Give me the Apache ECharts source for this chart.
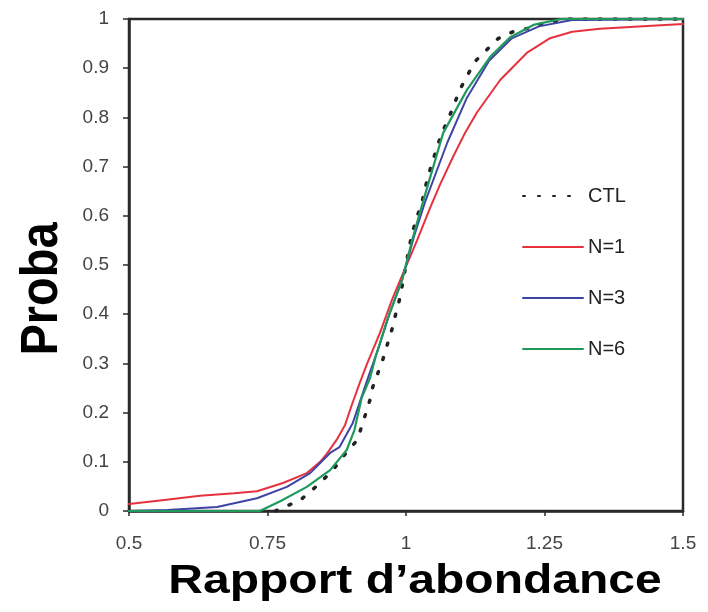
<!DOCTYPE html>
<html>
<head>
<meta charset="utf-8">
<script src="https://cdn.jsdelivr.net/npm/echarts@6/dist/echarts.min.js"></script>
<style>html,body{margin:0;padding:0;background:#fff}#c{width:708px;height:612px}</style>
</head>
<body>
<div id="c"></div>
<script>
var xTicks = [0.5, 0.75, 1, 1.25, 1.5];
var yTicks = [0, 0.1, 0.2, 0.3, 0.4, 0.5, 0.6, 0.7, 0.8, 0.9, 1];
var seriesNames = ['CTL', 'N=1', 'N=3', 'N=6'];

var ctl = [[0.764,0],[0.767,0.002],[0.809,0.022],[0.841,0.053],[0.868,0.083],[0.893,0.12],[0.912,0.144],[0.922,0.179],[0.935,0.226],[0.94,0.252],[0.958,0.307],[0.967,0.341],[0.976,0.374],[0.98,0.394],[0.989,0.433],[1.0,0.5],[1.01,0.56],[1.02,0.598],[1.029,0.628],[1.036,0.663],[1.045,0.70],[1.062,0.76],[1.083,0.815],[1.097,0.856],[1.124,0.913],[1.148,0.94],[1.166,0.96],[1.193,0.974],[1.224,0.982],[1.25,0.992],[1.29,1],[1.5,1]];
var n1 = [[0.5,0.014],[0.56,0.022],[0.628,0.031],[0.69,0.036],[0.731,0.04],[0.778,0.057],[0.821,0.077],[0.845,0.1],[0.857,0.116],[0.875,0.145],[0.89,0.175],[0.902,0.215],[0.917,0.262],[0.93,0.3],[0.953,0.362],[0.975,0.43],[0.995,0.484],[1.02,0.55],[1.045,0.62],[1.062,0.665],[1.085,0.72],[1.105,0.765],[1.128,0.81],[1.17,0.876],[1.218,0.931],[1.26,0.961],[1.30,0.974],[1.35,0.98],[1.42,0.985],[1.5,0.99]];
var n3 = [[0.5,0],[0.569,0.002],[0.659,0.008],[0.731,0.026],[0.785,0.049],[0.827,0.077],[0.863,0.118],[0.88,0.13],[0.904,0.179],[0.93,0.266],[0.95,0.33],[0.97,0.4],[0.993,0.47],[1.015,0.56],[1.035,0.63],[1.055,0.69],[1.075,0.75],[1.11,0.84],[1.15,0.915],[1.19,0.96],[1.24,0.985],[1.3,0.998],[1.5,1]];
var n6 = [[0.5,0],[0.736,0],[0.773,0.02],[0.821,0.049],[0.863,0.083],[0.893,0.124],[0.907,0.165],[0.92,0.23],[0.935,0.27],[0.945,0.313],[0.966,0.388],[0.993,0.47],[1.011,0.55],[1.025,0.606],[1.035,0.645],[1.067,0.768],[1.11,0.856],[1.152,0.923],[1.188,0.963],[1.23,0.988],[1.28,1],[1.5,1]];

var chart = echarts.init(document.getElementById('c'), null, {renderer: 'canvas'});
var lab = {fontFamily: 'Liberation Sans, Arial, sans-serif', fontSize: 19, color: '#444'};
function mk(name, data, color, type, width) {
  return {name: name, type: 'line', data: data, symbol: 'none', smooth: false,
    lineStyle: {color: color, width: width, type: type, cap: 'round'}, itemStyle: {color: color}, z: 3};
}
chart.setOption({
  animation: false,
  backgroundColor: '#fff',
  grid: {left: 129, right: 25, top: 19, bottom: 101, show: true, borderColor: '#2a2a2a', borderWidth: 2.5},
  xAxis: {type: 'value', min: 0.5, max: 1.5, interval: 0.25,
    axisLine: {show: true, lineStyle: {color: '#2a2a2a', width: 2.5}},
    axisTick: {show: true, inside: false, length: 5, lineStyle: {color: '#2a2a2a', width: 1.5}},
    splitLine: {show: false},
    axisLabel: Object.assign({margin: 23, formatter: function(v){ return String(+v.toFixed(2)); }}, lab)},
  yAxis: {type: 'value', min: 0, max: 1, interval: 0.1,
    axisLine: {show: true, lineStyle: {color: '#2a2a2a', width: 2.5}},
    axisTick: {show: true, inside: false, length: 6, lineStyle: {color: '#2a2a2a', width: 1.5}},
    splitLine: {show: false},
    axisLabel: Object.assign({margin: 20, formatter: function(v){ return String(+v.toFixed(1)); }}, lab)},
  legend: {orient: 'vertical', left: 522, top: 186, padding: 0, itemWidth: 60, itemHeight: 14, itemGap: 31,
    data: seriesNames,
    itemStyle: {opacity: 0},
    textStyle: {fontFamily: 'Liberation Sans, Arial, sans-serif', fontSize: 20, color: '#222'}},
  series: [
    mk(seriesNames[0], ctl, '#222', [2, 13], 3.5),
    mk(seriesNames[1], n1, '#e6323e', 'solid', 2),
    mk(seriesNames[2], n3, '#3f44a4', 'solid', 2),
    mk(seriesNames[3], n6, '#1f9a5c', 'solid', 2.2)
  ],
  graphic: [
    {type: 'text', x: 415, y: 582, scaleX: 1.2, style: {text: 'Rapport d\u2019abondance', font: 'bold 40px "Liberation Sans", Arial, sans-serif', fill: '#000', align: 'center', verticalAlign: 'middle'}},
    {type: 'text', x: 43, y: 289, rotation: Math.PI / 2, scaleY: 1.1, style: {text: 'Proba', font: 'bold 47px "Liberation Sans", Arial, sans-serif', fill: '#000', align: 'center', verticalAlign: 'middle'}}
  ]
});
</script>
</body>
</html>
